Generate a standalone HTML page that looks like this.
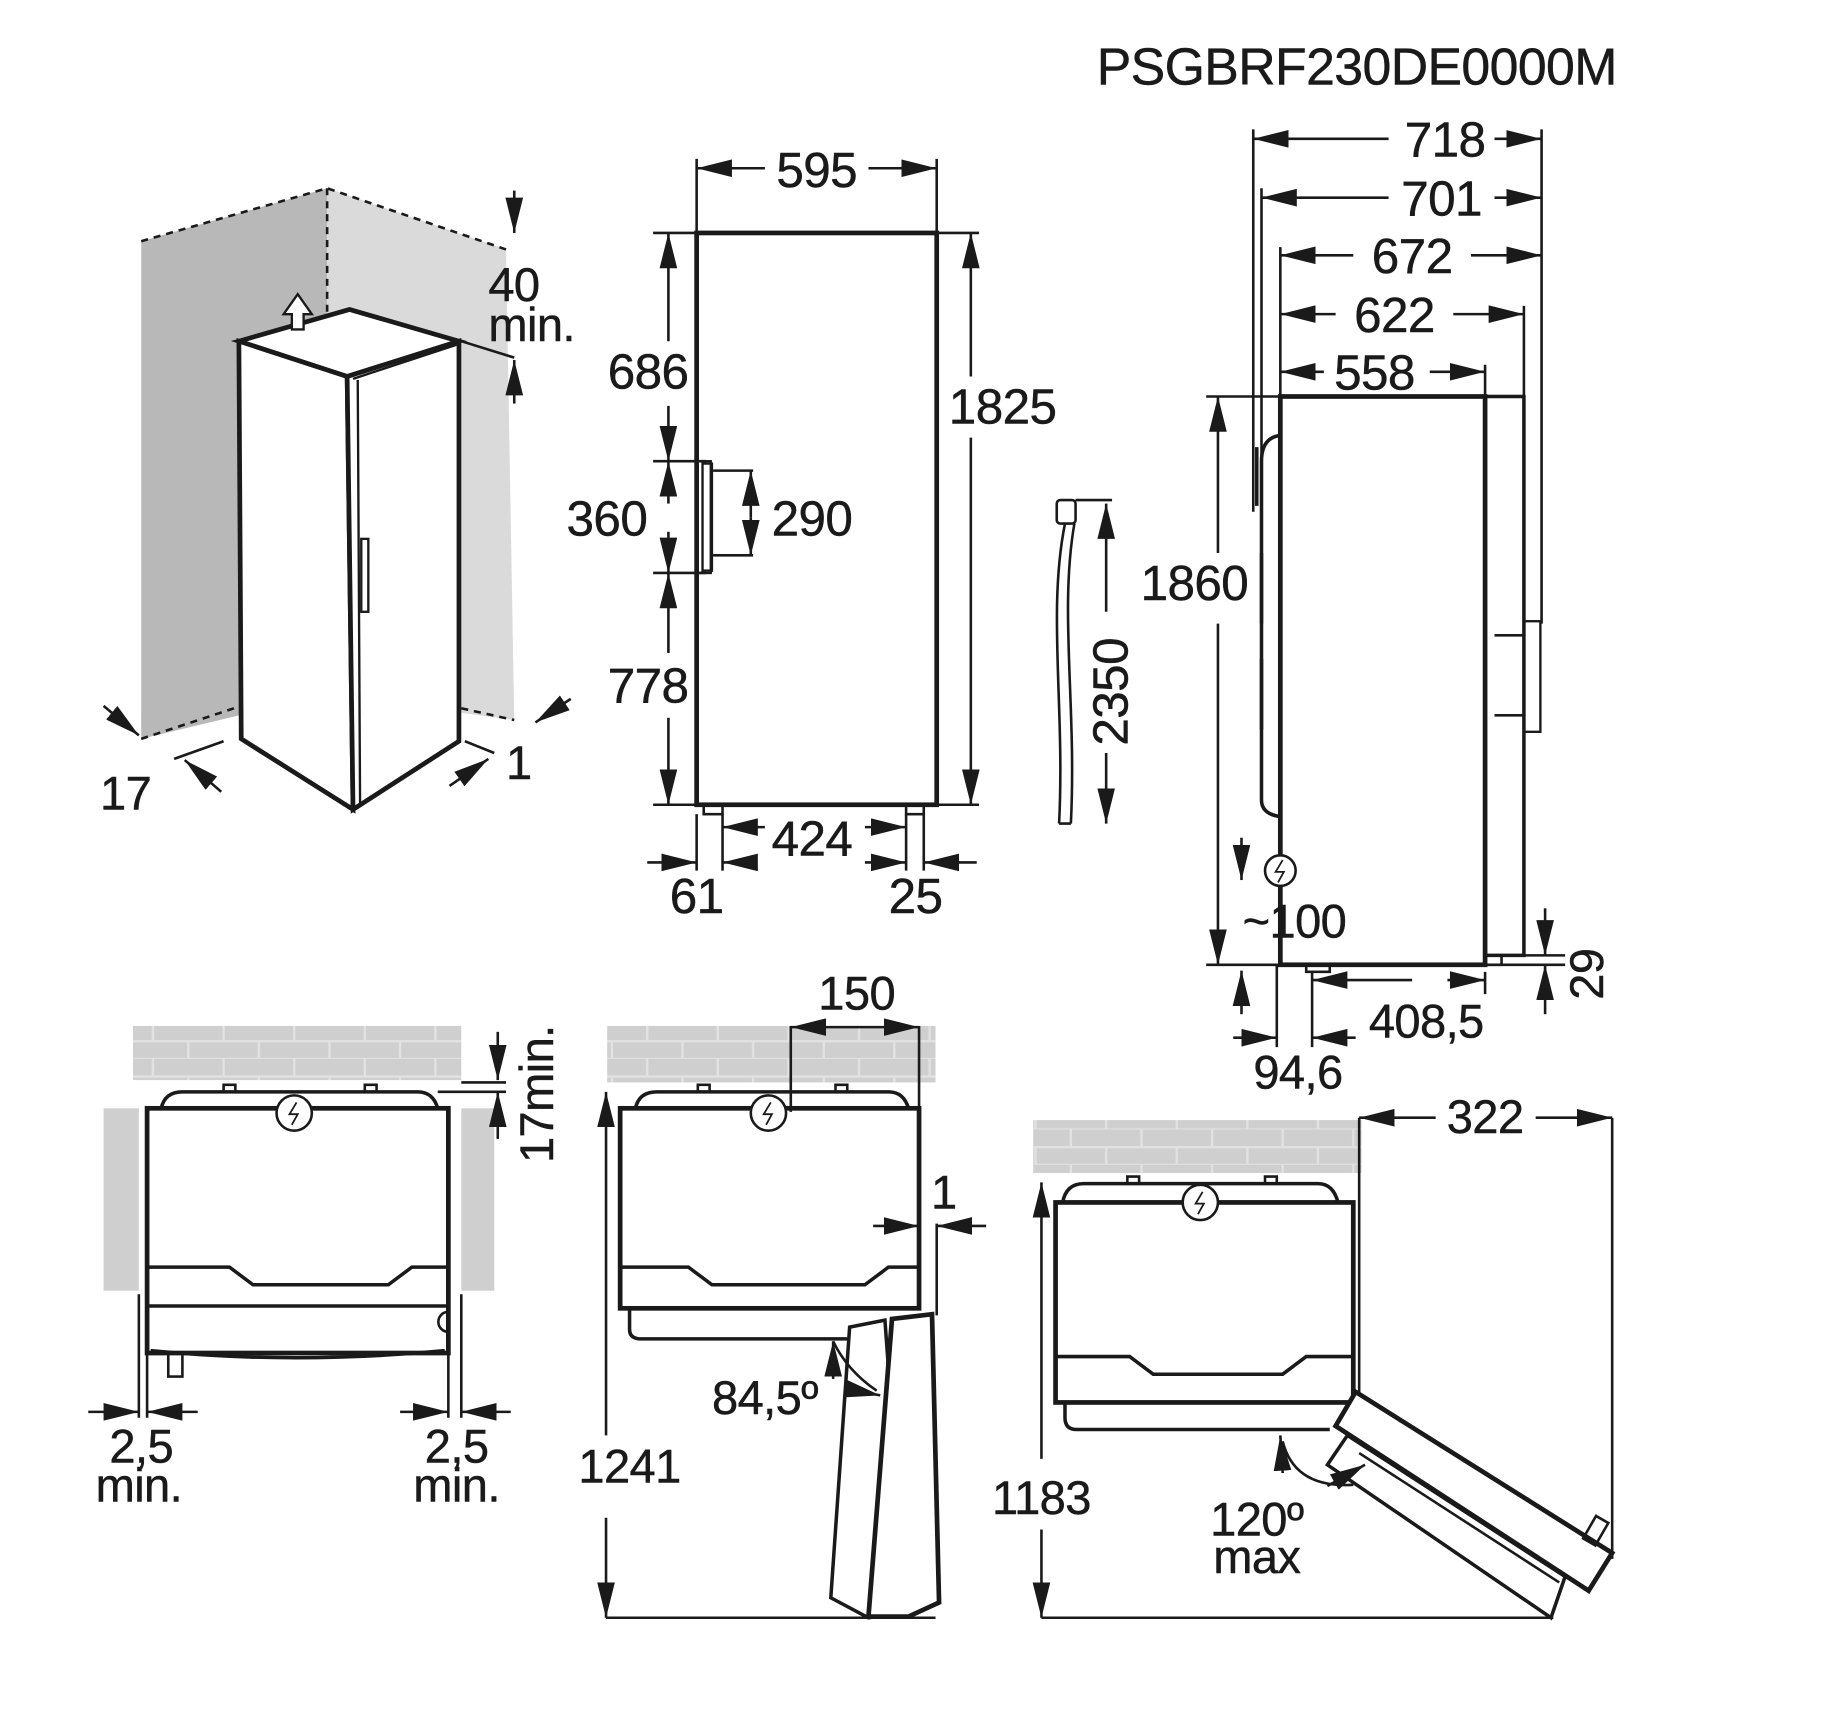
<!DOCTYPE html>
<html><head><meta charset="utf-8"><style>
html,body{margin:0;padding:0;background:#fff;}
svg{display:block;}
text{font-family:"Liberation Sans",sans-serif;fill:#1a1a1a;letter-spacing:-0.5px;stroke:#1a1a1a;stroke-width:0.4px;}
</style></head><body>
<svg width="1844" height="1726" viewBox="0 0 1567 1467" preserveAspectRatio="none" xmlns="http://www.w3.org/2000/svg">
<defs>
<marker id="a" viewBox="0 0 28 14" refX="28" refY="7" markerWidth="30" markerHeight="15" markerUnits="userSpaceOnUse" orient="auto-start-reverse"><path d="M0,0 L28,7 L0,14 z" fill="#1a1a1a"/></marker>
<pattern id="brick" width="60" height="30" patternUnits="userSpaceOnUse"><rect width="60" height="30" fill="#cfcfcf"/><path d="M0,15 H60 M0,30 H60 M10,0 V15 M40,15 V30" stroke="#e2e2e2" stroke-width="2"/></pattern>
</defs>
<g stroke="#1a1a1a" fill="none" stroke-width="2.2">

<text x="932" y="72" font-size="44">PSGBRF230DE0000M</text>

<!-- Panel 1 -->
<polygon points="120,205 278,160 278,590 120,628" fill="#b8b8b8" stroke="none"/>
<polygon points="278,160 430,212 437,612 278,590" fill="#dadada" stroke="none"/>
<path d="M120,205 L278,160 L430,212 M278,160 V275 M120,628 L205,600 M392,602 L437,612" stroke-dasharray="6,5"/>
<polygon points="203,290 297,263 390,290 295,320" fill="#fff" stroke-width="4"/>
<polygon points="203,290 295,320 300,688 205,628" fill="#fff" stroke-width="4"/>
<polygon points="295,320 390,290 390,630 300,688" fill="#fff" stroke-width="4"/>
<path d="M300,322 L388,293 M304,323 L306,686" stroke-width="2"/>
<rect x="307" y="458" width="6" height="62" stroke-width="2"/>
<path d="M241,267 L253,250 L265,267 L258,267 L258,280 L248,280 L248,267 z" fill="#fff" stroke-width="2"/>
<line x1="437" y1="162" x2="437" y2="198" marker-end="url(#a)"/>
<line x1="437" y1="343" x2="437" y2="306" marker-end="url(#a)"/>
<path d="M392,290 L437,304"/>
<text x="415" y="256" font-size="40">40</text>
<text x="415" y="290" font-size="40">min.</text>
<line x1="88" y1="600" x2="118" y2="625" marker-end="url(#a)"/>
<line x1="188" y1="673" x2="157" y2="646" marker-end="url(#a)"/>
<path d="M148,645 L190,630"/>
<line x1="485" y1="594" x2="455" y2="614" marker-end="url(#a)"/>
<line x1="382" y1="668" x2="415" y2="645" marker-end="url(#a)"/>
<path d="M395,630 L420,640"/>
<text x="85" y="688" font-size="40">17</text>
<text x="430" y="662" font-size="40">1</text>

<!-- Panel 2 -->
<rect x="592" y="198" width="204" height="486" stroke-width="4"/>
<rect x="598" y="684" width="16" height="8"/><rect x="770" y="684" width="15" height="8"/>
<rect x="592" y="392" width="12" height="95" stroke-width="2"/>
<rect x="597" y="394" width="8" height="91" stroke-width="2"/>
<path d="M592,135 V198 M796,135 V198 M555,198 H592 M796,198 H832 M555,392 H600 M555,487 H600 M555,684 H592 M796,684 H832 M606,400 H640 M606,472 H640"/>
<line x1="650" y1="143" x2="592" y2="143" marker-end="url(#a)"/>
<line x1="738" y1="143" x2="796" y2="143" marker-end="url(#a)"/>
<text x="694" y="159" font-size="42" text-anchor="middle">595</text>
<line x1="568" y1="290" x2="568" y2="198" marker-end="url(#a)"/>
<line x1="568" y1="345" x2="568" y2="392" marker-end="url(#a)"/>
<line x1="568" y1="428" x2="568" y2="392" marker-end="url(#a)"/>
<line x1="568" y1="452" x2="568" y2="487" marker-end="url(#a)"/>
<line x1="568" y1="555" x2="568" y2="487" marker-end="url(#a)"/>
<line x1="568" y1="610" x2="568" y2="684" marker-end="url(#a)"/>
<text x="585" y="330" font-size="42" text-anchor="end">686</text>
<text x="550" y="455" font-size="42" text-anchor="end">360</text>
<text x="585" y="597" font-size="42" text-anchor="end">778</text>
<line x1="825" y1="320" x2="825" y2="198" marker-end="url(#a)"/>
<line x1="825" y1="372" x2="825" y2="684" marker-end="url(#a)"/>
<text x="852" y="360" font-size="42" text-anchor="middle">1825</text>
<line x1="638" y1="440" x2="638" y2="400" marker-end="url(#a)"/>
<line x1="638" y1="440" x2="638" y2="472" marker-end="url(#a)"/>
<text x="690" y="455" font-size="42" text-anchor="middle">290</text>
<path d="M614,692 V740 M770,692 V740 M592,692 V740 M785,692 V740"/>
<line x1="650" y1="703" x2="614" y2="703" marker-end="url(#a)"/>
<line x1="735" y1="703" x2="770" y2="703" marker-end="url(#a)"/>
<text x="690" y="727" font-size="42" text-anchor="middle">424</text>
<line x1="550" y1="733" x2="592" y2="733" marker-end="url(#a)"/>
<line x1="640" y1="733" x2="614" y2="733" marker-end="url(#a)"/>
<line x1="735" y1="733" x2="770" y2="733" marker-end="url(#a)"/>
<line x1="830" y1="733" x2="785" y2="733" marker-end="url(#a)"/>
<text x="592" y="776" font-size="42" text-anchor="middle">61</text>
<text x="778" y="776" font-size="42" text-anchor="middle">25</text>

<!-- cable -->
<path d="M905,445 C890,520 905,600 900,700 M913,445 C900,520 915,600 910,700 M900,700 H910"/>
<rect x="898" y="425" width="16" height="20" rx="3" fill="#fff"/>
<path d="M914,425 H945"/>
<line x1="940" y1="520" x2="940" y2="428" marker-end="url(#a)"/>
<line x1="940" y1="640" x2="940" y2="700" marker-end="url(#a)"/>
<text transform="translate(958,588) rotate(-90)" font-size="42" text-anchor="middle">2350</text>

<!-- Panel 3 -->
<rect x="1088" y="337" width="174" height="483" stroke-width="4"/>
<rect x="1262" y="337" width="33" height="475" stroke-width="3"/>
<rect x="1295" y="528" width="14" height="94" stroke-width="2"/>
<path d="M1270,540 H1295 M1270,608 H1295"/>
<path d="M1088,370 Q1072,372 1072,392 V680 Q1072,692 1088,694" stroke-width="3"/>
<path d="M1068,380 V430 M1072,470 V530 M1072,560 V620" stroke-width="3"/>
<rect x="1110" y="820" width="20" height="6"/><rect x="1262" y="812" width="14" height="8"/>
<path d="M1065,110 V435 M1072,160 V430 M1310,110 V530 M1295,260 V337 M1262,310 V337 M1088,210 V337 M1025,337 H1088 M1025,820 H1088 M1295,812 H1330 M1262,820 H1330 M1085,820 V890 M1115,826 V890 M1262,826 V845"/>
<line x1="1180" y1="118" x2="1065" y2="118" marker-end="url(#a)"/><line x1="1270" y1="118" x2="1310" y2="118" marker-end="url(#a)"/>
<text x="1228" y="133" font-size="42" text-anchor="middle">718</text>
<line x1="1180" y1="168" x2="1072" y2="168" marker-end="url(#a)"/><line x1="1270" y1="168" x2="1310" y2="168" marker-end="url(#a)"/>
<text x="1225" y="183" font-size="42" text-anchor="middle">701</text>
<line x1="1150" y1="217" x2="1088" y2="217" marker-end="url(#a)"/><line x1="1250" y1="217" x2="1310" y2="217" marker-end="url(#a)"/>
<text x="1200" y="232" font-size="42" text-anchor="middle">672</text>
<line x1="1135" y1="267" x2="1088" y2="267" marker-end="url(#a)"/><line x1="1235" y1="267" x2="1295" y2="267" marker-end="url(#a)"/>
<text x="1185" y="282" font-size="42" text-anchor="middle">622</text>
<line x1="1125" y1="316" x2="1088" y2="316" marker-end="url(#a)"/><line x1="1215" y1="316" x2="1262" y2="316" marker-end="url(#a)"/>
<text x="1168" y="331" font-size="42" text-anchor="middle">558</text>
<line x1="1035" y1="470" x2="1035" y2="337" marker-end="url(#a)"/><line x1="1035" y1="530" x2="1035" y2="820" marker-end="url(#a)"/>
<text x="1015" y="510" font-size="42" text-anchor="middle">1860</text>
<circle cx="1088" cy="740" r="13" fill="#fff"/><path d="M1090,731 L1084,741 L1091,741 L1086,750" stroke-width="1.5"/>
<line x1="1055" y1="712" x2="1055" y2="748" marker-end="url(#a)"/>
<text x="1100" y="797" font-size="40" text-anchor="middle">~100</text>
<line x1="1313" y1="772" x2="1313" y2="812" marker-end="url(#a)"/><line x1="1313" y1="862" x2="1313" y2="820" marker-end="url(#a)"/>
<text transform="translate(1362,828) rotate(-90)" font-size="40" text-anchor="middle">29</text>
<line x1="1200" y1="833" x2="1115" y2="833" marker-end="url(#a)"/><line x1="1230" y1="833" x2="1262" y2="833" marker-end="url(#a)"/>
<text x="1212" y="882" font-size="40" text-anchor="middle">408,5</text>
<line x1="1055" y1="862" x2="1055" y2="825" marker-end="url(#a)"/>
<line x1="1048" y1="882" x2="1085" y2="882" marker-end="url(#a)"/><line x1="1152" y1="882" x2="1115" y2="882" marker-end="url(#a)"/>
<text x="1103" y="925" font-size="40" text-anchor="middle">94,6</text>

<!-- Panel A -->
<rect x="113" y="872" width="279" height="46" fill="url(#brick)" stroke="none"/>
<rect x="88" y="942" width="30" height="155" fill="#cfcfcf" stroke="none"/>
<rect x="392" y="942" width="28" height="155" fill="#cfcfcf" stroke="none"/>
<path d="M137,942 Q140,928 155,928 H355 Q368,928 372,942" stroke-width="3"/>
<rect x="125" y="942" width="256" height="208" stroke-width="4" fill="#fff"/>
<path d="M125,1077 H195 L215,1092 H330 L350,1077 H381" stroke-width="3"/>
<path d="M125,1110 H381 M128,1148 Q250,1160 378,1148" stroke-width="3"/>
<path d="M381,1115 A8,8 0 1,0 381,1132"/>
<rect x="143" y="1150" width="12" height="20"/>
<circle cx="250" cy="946" r="15" fill="#fff"/><path d="M252,937 L246,947 L253,947 L248,956" stroke-width="1.5"/>
<path d="M190,928 V922 H200 V928 M310,928 V922 H320 V928"/>
<path d="M118,1100 V1205 M125,1150 V1205 M381,1150 V1205 M392,1100 V1205 M392,920 H430 M372,928 H430"/>
<line x1="75" y1="1200" x2="118" y2="1200" marker-end="url(#a)"/><line x1="168" y1="1200" x2="125" y2="1200" marker-end="url(#a)"/>
<line x1="340" y1="1200" x2="381" y2="1200" marker-end="url(#a)"/><line x1="434" y1="1200" x2="392" y2="1200" marker-end="url(#a)"/>
<text x="120" y="1243" font-size="40" text-anchor="middle">2,5</text>
<text x="118" y="1276" font-size="40" text-anchor="middle">min.</text>
<text x="388" y="1243" font-size="40" text-anchor="middle">2,5</text>
<text x="388" y="1276" font-size="40" text-anchor="middle">min.</text>
<line x1="423" y1="877" x2="423" y2="918" marker-end="url(#a)"/><line x1="423" y1="968" x2="423" y2="928" marker-end="url(#a)"/>
<text transform="translate(470,930) rotate(-90)" font-size="40" text-anchor="middle">17min.</text>

<!-- Panel B -->
<rect x="516" y="872" width="279" height="48" fill="url(#brick)" stroke="none"/>
<path d="M540,942 Q543,928 558,928 H755 Q768,928 772,942" stroke-width="3"/>
<rect x="527" y="942" width="254" height="170" stroke-width="4" fill="#fff"/>
<path d="M527,1077 H585 L605,1092 H735 L755,1077 H781" stroke-width="3"/>
<path d="M535,1112 V1130 Q535,1138 545,1138 H720" stroke-width="3"/>
<circle cx="653" cy="946" r="15" fill="#fff"/><path d="M655,937 L649,947 L656,947 L651,956" stroke-width="1.5"/>
<path d="M593,928 V922 H603 V928 M710,928 V922 H720 V928"/>
<polygon points="722,1128 752,1122 770,1370 738,1375 706,1358" fill="#fff" stroke-width="3"/>
<polygon points="758,1121 792,1117 798,1362 772,1374 738,1374" fill="#fff" stroke-width="4"/>
<path d="M672,872 V945 M781,872 V942 M796,1040 V1118"/>
<line x1="730" y1="873" x2="672" y2="873" marker-end="url(#a)"/><line x1="730" y1="873" x2="781" y2="873" marker-end="url(#a)"/>
<text x="728" y="858" font-size="40" text-anchor="middle">150</text>
<line x1="742" y1="1042" x2="781" y2="1042" marker-end="url(#a)"/><line x1="838" y1="1042" x2="796" y2="1042" marker-end="url(#a)"/>
<text x="802" y="1027" font-size="40" text-anchor="middle">1</text>
<path d="M708,1140 Q720,1165 745,1182"/>
<line x1="708" y1="1172" x2="708" y2="1140" marker-end="url(#a)"/>
<line x1="722" y1="1181" x2="748" y2="1186" marker-end="url(#a)"/>
<text x="650" y="1202" font-size="40" text-anchor="middle">84,5º</text>
<line x1="515" y1="1220" x2="515" y2="928" marker-end="url(#a)"/><line x1="515" y1="1290" x2="515" y2="1375" marker-end="url(#a)"/>
<path d="M515,1375 H795"/>
<text x="535" y="1260" font-size="40" text-anchor="middle">1241</text>

<!-- Panel C -->
<rect x="878" y="952" width="279" height="45" fill="url(#brick)" stroke="none"/>
<path d="M903,1022 Q906,1006 921,1006 H1120 Q1133,1006 1137,1022" stroke-width="3"/>
<rect x="897" y="1022" width="253" height="170" stroke-width="4" fill="#fff"/>
<path d="M897,1153 H960 L980,1168 H1090 L1110,1153 H1150" stroke-width="3"/>
<path d="M905,1192 V1205 Q905,1215 915,1215 H1130" stroke-width="3"/>
<circle cx="1020" cy="1022" r="15" fill="#fff"/><path d="M1022,1013 L1016,1023 L1023,1023 L1018,1032" stroke-width="1.5"/>
<path d="M958,1006 V1000 H968 V1006 M1075,1006 V1000 H1085 V1006"/>
<polygon points="1152,1183 1370,1320 1350,1352 1135,1212" fill="#fff" stroke-width="4"/>
<polygon points="1145,1220 1330,1340 1318,1375 1128,1245" fill="#fff" stroke-width="3"/>
<path d="M1155,1235 L1325,1345"/>
<rect x="1350" y="1290" width="12" height="22" transform="rotate(30 1356 1301)"/>
<path d="M1155,950 V1185 M1370,950 V1325"/>
<line x1="1220" y1="950" x2="1155" y2="950" marker-end="url(#a)"/><line x1="1305" y1="950" x2="1370" y2="950" marker-end="url(#a)"/>
<text x="1262" y="963" font-size="40" text-anchor="middle">322</text>
<path d="M1090,1225 Q1100,1265 1150,1262"/>
<line x1="1090" y1="1252" x2="1088" y2="1220" marker-end="url(#a)"/>
<line x1="1128" y1="1263" x2="1160" y2="1245" marker-end="url(#a)"/>
<text x="1068" y="1305" font-size="40" text-anchor="middle">120º</text>
<text x="1068" y="1337" font-size="40" text-anchor="middle">max</text>
<line x1="885" y1="1240" x2="885" y2="1005" marker-end="url(#a)"/><line x1="885" y1="1300" x2="885" y2="1375" marker-end="url(#a)"/>
<path d="M885,1375 H1320"/>
<text x="885" y="1287" font-size="40" text-anchor="middle">1183</text>
</g>
</svg>
</body></html>
